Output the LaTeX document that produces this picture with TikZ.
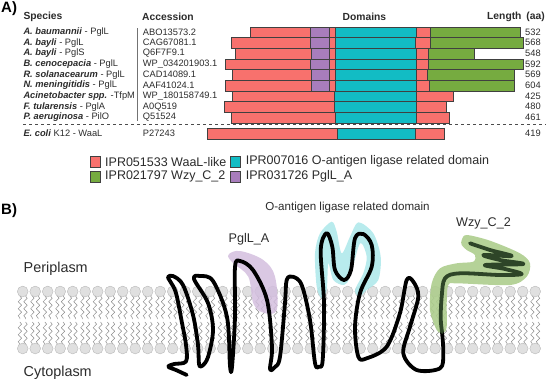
\documentclass[tikz,border=0pt]{standalone}
\usepackage{fontspec}
\setmainfont{Liberation Sans}
\usetikzlibrary{decorations.pathmorphing}

\definecolor{waal}{HTML}{F8716D}
\definecolor{ligase}{HTML}{12BCC4}
\definecolor{wzy}{HTML}{76AB40}
\definecolor{pgl}{HTML}{A87DBC}
\definecolor{txtgray}{HTML}{2B2B2B}
\definecolor{wzydark}{HTML}{2E4528}

\tikzset{
    seg/.style={draw=black!75, line width=0.7pt},
    tail/.style={draw=black!45, line width=0.5pt, decorate,
        decoration={snake, segment length=7pt, amplitude=1.7pt}},
    head/.style={draw=black!28, fill=black!12, line width=0.4pt},
    lab/.style={font=\fontsize{9.3}{10}\selectfont, text=txtgray, anchor=west, inner sep=0pt},
    hdr/.style={font=\fontsize{10.3}{11}\selectfont\bfseries, text=txtgray, anchor=west, inner sep=0pt},
    leg/.style={font=\fontsize{12.5}{14}\selectfont, text=txtgray, anchor=west, inner sep=0pt},
    big/.style={font=\fontsize{12.6}{14}\selectfont, text=txtgray, inner sep=0pt},
    mem/.style={font=\fontsize{14.4}{16}\selectfont, text=txtgray, anchor=west, inner sep=0pt},
    panel/.style={font=\fontsize{15}{16}\selectfont\bfseries, anchor=west, inner sep=0pt},
    strand/.style={line width=3.8pt, line cap=round, line join=round},
    lipid/.pic={
        \draw[tail] (-2.8,296) -- (-2.8,319);
        \draw[tail] (2.8,296) -- (2.8,319);
        \draw[tail] (-2.8,322) -- (-2.8,344);
        \draw[tail] (2.8,322) -- (2.8,344);
        \draw[head] (0,291.5) circle (5.4);
        \draw[head] (0,348.5) circle (5.4);
    },
}

\begin{document}
\begin{tikzpicture}[x=1pt, y=-1pt]
    \useasboundingbox (0,0) rectangle (546,384);

    % panel A: table headings
    \node[panel] (panelA) at (1,9) {A)};
    \node[hdr] (hspecies) at (23.3,16.7) {Species};
    \node[hdr] (haccession) at (142,16.7) {Accession};
    \node[hdr] (hdomains) at (342.5,16.7) {Domains};
    \node[hdr] (hlength) at (487,16.7) {Length\hspace{2pt} (aa)};

    % panel A: species, accession and length per row
    \foreach \row/\spc/\prot/\acc/\len in {
        0/A. baumannii/ - PglL/ABO13573.2/532,
        1/A. bayli/ - PglL/CAG67081.1/568,
        2/A. bayli/ - PglS/Q6F7F9.1/548,
        3/B. cenocepacia/ - PglL/WP\_034201903.1/592,
        4/R. solanacearum/ - PglL/CAD14089.1/569,
        5/N. meningitidis/ - PglL/AAF41024.1/604,
        6/Acinetobacter spp./ -TfpM/WP\_180158749.1/425,
        7/F. tularensis/ - PglA/A0Q519/480,
        8/P. aeruginosa/ - PilO/Q51524/461}
    {
        \node[lab] (sp\row) at (23.3,32+10.67*\row) {\textbf{\textit{\spc}}\prot};
        \node[lab] (acc\row) at (142.7,32+10.67*\row) {\acc};
        \node[lab] (len\row) at (525,32+10.67*\row) {\len};
    }
    \draw[black!55, line width=0.7pt] (137.5,28) -- (137.5,121);

    % domain bars with PglL_A and Wzy_C_2
    \foreach \row/\xa/\xb/\xc/\xd/\xe/\xf/\xg in {
        0/250.3/310.7/329.3/335.3/416.7/430/520.7,
        1/231.7/310.7/329.3/335.3/415.7/430/523.3,
        2/235/311.3/329.3/335.3/416.3/428.7/474,
        3/225.7/310.7/329.3/335.3/416.7/428.3/523.3,
        4/232.3/311.3/329.3/335.3/416.7/427.7/514,
        5/225/311.3/329.3/335.3/416.7/429.3/514.7}
    {
        \path[seg, fill=waal] (\xa,27+10.67*\row) rectangle (\xb,37.67+10.67*\row);
        \path[seg, fill=pgl] (\xb,27+10.67*\row) rectangle (\xc,37.67+10.67*\row);
        \path[seg, fill=waal] (\xc,27+10.67*\row) rectangle (\xd,37.67+10.67*\row);
        \path[seg, fill=ligase] (\xd,27+10.67*\row) rectangle (\xe,37.67+10.67*\row);
        \path[seg, fill=waal] (\xe,27+10.67*\row) rectangle (\xf,37.67+10.67*\row);
        \path[seg, fill=wzy] (\xf,27+10.67*\row) rectangle (\xg,37.67+10.67*\row);
    }
    % shorter bars
    \foreach \row/\xa/\xb/\xc/\xd in {
        6/232.3/334.3/416.7/453.3,
        7/224/334.3/416.7/446.7,
        8/231.7/335.7/416.7/449.3}
    {
        \path[seg, fill=waal] (\xa,27+10.67*\row) rectangle (\xb,37.67+10.67*\row);
        \path[seg, fill=ligase] (\xb,27+10.67*\row) rectangle (\xc,37.67+10.67*\row);
        \path[seg, fill=waal] (\xc,27+10.67*\row) rectangle (\xd,37.67+10.67*\row);
    }

    \draw[black!70, dashed, line width=0.9pt] (23,124.5) -- (546,124.5);

    % E. coli row
    \node[lab] (spcoli) at (23.3,133.5) {\textbf{\textit{E. coli}} K12 - WaaL};
    \node[lab] (acccoli) at (142.7,133.5) {P27243};
    \node[lab] (lencoli) at (525,133.5) {419};
    \path[seg, fill=waal] (207.3,128.3) rectangle (337.3,139);
    \path[seg, fill=ligase] (337.3,128.3) rectangle (415.7,139);
    \path[seg, fill=waal] (415.7,128.3) rectangle (444,139);

    % legend
    \path[seg, fill=waal] (90.3,156.7) rectangle (100.5,167);
    \node[leg] (legwaal) at (105,161.7) {IPR051533 WaaL-like};
    \path[seg, fill=ligase] (230.7,156.7) rectangle (240.7,167);
    \node[leg] (legligase) at (245.7,161.7) {IPR007016 O-antigen ligase related domain};
    \path[seg, fill=wzy] (90.3,171.7) rectangle (100.5,182);
    \node[leg] (legwzy) at (105,176.7) {IPR021797 Wzy\_C\_2};
    \path[seg, fill=pgl] (230.7,171.7) rectangle (240.7,182);
    \node[leg] (legpgl) at (245.7,176.7) {IPR031726 PglL\_A};

    % panel B: labels
    \node[panel] (panelB) at (1,210.5) {B)};
    \node[mem] (peri) at (23.5,268.5) {Periplasm};
    \node[mem] (cyto) at (23.5,372.5) {Cytoplasm};
    \node[big] (pgllabel) at (249,239.5) {PglL\_A};
    \node[font=\fontsize{11.6}{13}\selectfont, text=txtgray, inner sep=0pt] (liglabel) at (347.5,207) {O-antigen ligase related domain};
    \node[big] (wzylabel) at (483.5,223) {Wzy\_C\_2};

    % bilayer
    \foreach \k in {0,...,41} {
        \pic at (22.7+12.5*\k,0) {lipid};
    }

    % domain shading
    \fill[pgl!50, opacity=0.85] plot[smooth cycle, tension=.6] coordinates {
        (228.3,255) (240,251) (263.3,260) (275,276.7) (276.7,310) (263.3,312.7)
        (253.3,303.3) (248.3,276.7) (233.3,263.3)};
    \fill[ligase!35, opacity=0.85] plot[smooth cycle, tension=.5] coordinates {
        (315,253.3) (320,233.3) (331.7,221.7) (336.7,231.7) (341.7,253.3) (350,236.7)
        (358.3,222.3) (373.3,233.3) (380.7,256.7) (378.3,280) (366.7,290) (359.3,296.7)
        (355,290) (363.3,273.3) (366.7,256.7) (360,243.3) (350,276.7) (344,285)
        (333.3,280) (328.3,263.3) (326.7,290) (321.7,298.3) (316.7,286.7)};
    \fill[wzy!60, opacity=0.9] plot[smooth cycle, tension=.5] coordinates {
        (461.7,240) (466.7,235) (490,240.7) (520,253.3) (530,263.3) (526.7,276.7)
        (510,285) (456.7,283.3) (448.3,285) (446.7,303.3) (446.7,326.7) (443.3,333.3)
        (436.7,330) (430,310) (431.7,283.3) (440,268.3) (456.7,263.3) (473.3,261.7)
        (475,255) (466.7,250) (461.7,245)};

    % protein chain
    \draw[strand] plot[smooth, tension=.55] coordinates {
        (186.7,375) (176,370) (168.3,366.7) (174,364) (186,361.5) (186,345) (182,323)
        (176,293) (170,281) (168,277) (173,276) (183,285) (193,315) (198,345) (199,364)
        (202,366) (208,357) (213,330) (208,303) (194,279) (200,276) (213,281) (227,317)
        (230,366) (232,367) (235,317) (235,267) (240,261) (253,270) (267,300) (272,347)
        (270,369) (275,367) (280,356.7) (285,303) (286.7,280) (292.7,276.7) (301.7,285)
        (310,320) (315,363) (319,366.7) (322.7,360) (324,303) (320.7,250) (326.7,233)
        (332.3,246.7) (335,270) (344,280) (351,270) (355,238.3) (363.3,234) (371.7,245)
        (371.7,266.7) (360,293) (355,326.7) (358.3,356.7) (366.7,358.3) (386.7,346.7)
        (400,313) (406.7,280) (413.3,281.7) (418.3,296.7) (410,326.7) (403.3,353.3)
        (416.7,370) (440,368.3) (443.3,353.3) (442,332)};
    \draw[strand, wzydark] plot[smooth, tension=.55] coordinates {
        (442,332) (440.7,318) (441.7,296.7) (445,278.3) (460,273.3) (500,275)
        (521.7,274) (505,269) (485,265) (523.3,264) (500,260) (483.3,255) (511.7,256)
        (490,250) (470,243.3)};
\end{tikzpicture}
\end{document}
